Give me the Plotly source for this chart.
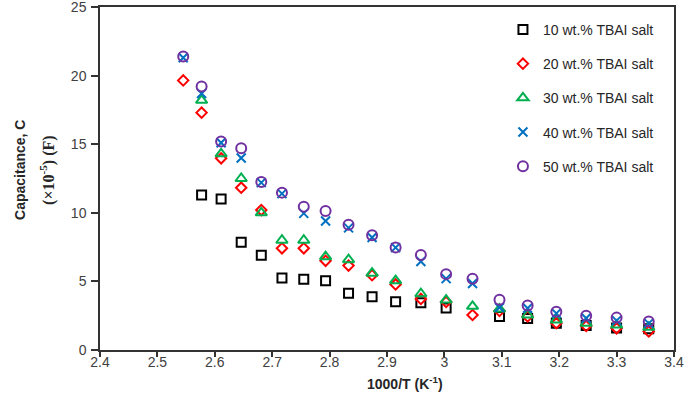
import plotly.graph_objects as go

x_vals = [2.545, 2.577, 2.611, 2.646, 2.681, 2.717, 2.755, 2.793, 2.833, 2.874,
          2.915, 2.959, 3.003, 3.049, 3.096, 3.145, 3.195, 3.247, 3.300, 3.356]

c10 = [None, 11.3, 11.0, 7.85, 6.9, 5.25, 5.15, 5.05, 4.13, 3.88,
       3.52, 3.45, 3.06, None, 2.45, 2.3, 1.95, 1.78, 1.6, 1.55]
c20 = [19.65, 17.3, 13.97, 11.83, 10.2, 7.41, 7.41, 6.5, 6.15, 5.45,
       4.78, 3.72, 3.5, 2.55, 2.85, 2.45, 1.95, 1.75, 1.58, 1.35]
c30 = [None, 18.2, 14.3, 12.5, 10.0, 8.0, 8.0, 6.8, 6.58, 5.6,
       5.05, 4.1, 3.64, 3.18, 2.98, 2.55, 2.19, 1.95, 1.82, 1.65]
c40 = [21.3, 18.7, 15.1, 14.0, 12.2, 11.4, 9.96, 9.4, 8.9, 8.2,
       7.46, 6.45, 5.2, 4.85, 3.1, 3.04, 2.67, 2.31, 2.14, 1.94]
c50 = [21.4, 19.2, 15.2, 14.7, 12.25, 11.47, 10.45, 10.13, 9.13, 8.36,
       7.47, 6.92, 5.53, 5.2, 3.66, 3.25, 2.79, 2.5, 2.36, 2.07]

names = ["10 wt.% TBAI salt", "20 wt.% TBAI salt", "30 wt.% TBAI salt",
         "40 wt.% TBAI salt", "50 wt.% TBAI salt"]
series = [c10, c20, c30, c40, c50]
symbols = ["square-open", "diamond-open", "triangle-up-open", "x-thin-open", "circle-open"]
colors = ["#000000", "#FF0000", "#00B050", "#0070C0", "#7030A0"]
sizes = [9, 8, 10, 9, 10]

fig = go.Figure()
for i, (nm, ys, sym, col, sz) in enumerate(zip(names, series, symbols, colors, sizes)):
    fig.add_trace(go.Scatter(
        x=x_vals, y=ys, mode="markers", name=nm, legendgroup=f"g{i}",
        marker=dict(symbol=sym, size=sz, color=col, line=dict(color=col, width=2)),
    ))

axis_col = "#333333"
fig.update_layout(
    width=685, height=400,
    margin=dict(l=100, r=11, t=7, b=50),
    plot_bgcolor="white", paper_bgcolor="white",
    font=dict(family="Liberation Sans, Arial, sans-serif", size=14, color="#404040"),
    showlegend=True,
    legend=dict(x=0.702, y=0.98, xanchor="left", yanchor="top",
                font=dict(size=14, color="#262626"), tracegroupgap=13,
                bgcolor="rgba(0,0,0,0)", itemwidth=30),
    xaxis=dict(range=[2.4, 3.4], dtick=0.1, tick0=2.4, ticks="outside", ticklen=5,
               tickcolor=axis_col, tickwidth=1.5, showline=True, linecolor=axis_col,
               linewidth=1.5, mirror=True, showgrid=False, zeroline=False,
               tickformat="~g", automargin=False, ticklabelstandoff=-7,
               ticklabeloverflow="allow"),
    yaxis=dict(range=[0, 25], dtick=5, ticks="outside", ticklen=7,
               tickcolor=axis_col, tickwidth=1.5, showline=True, linecolor=axis_col,
               linewidth=1.5, mirror=True, showgrid=False, zeroline=False,
               automargin=False, ticklabeloverflow="allow", ticklabelstandoff=2),
    annotations=[
        dict(text="<b>1000/T (K<sup>-1</sup>)</b>", xref="paper", yref="paper",
             x=0.531, y=0, yshift=-33, showarrow=False, xanchor="center", yanchor="middle",
             font=dict(size=14, color="#262626")),
        dict(text="<b>Capacitance, C</b>", xref="paper", yref="paper",
             x=0, xshift=-80, y=0.525, showarrow=False, textangle=-90,
             xanchor="center", yanchor="middle", font=dict(size=14, color="#262626")),
        dict(text="<b>(×10<sup>-5</sup>) (F)</b>", xref="paper", yref="paper",
             x=0, xshift=-52, y=0.525, showarrow=False, textangle=-90,
             xanchor="center", yanchor="middle",
             font=dict(size=16, color="#262626", family="Liberation Serif, Times New Roman, serif")),
    ],
)

fig.write_html("out.html", config={"displayModeBar": False},
               post_script="document.body.style.margin='0';")
